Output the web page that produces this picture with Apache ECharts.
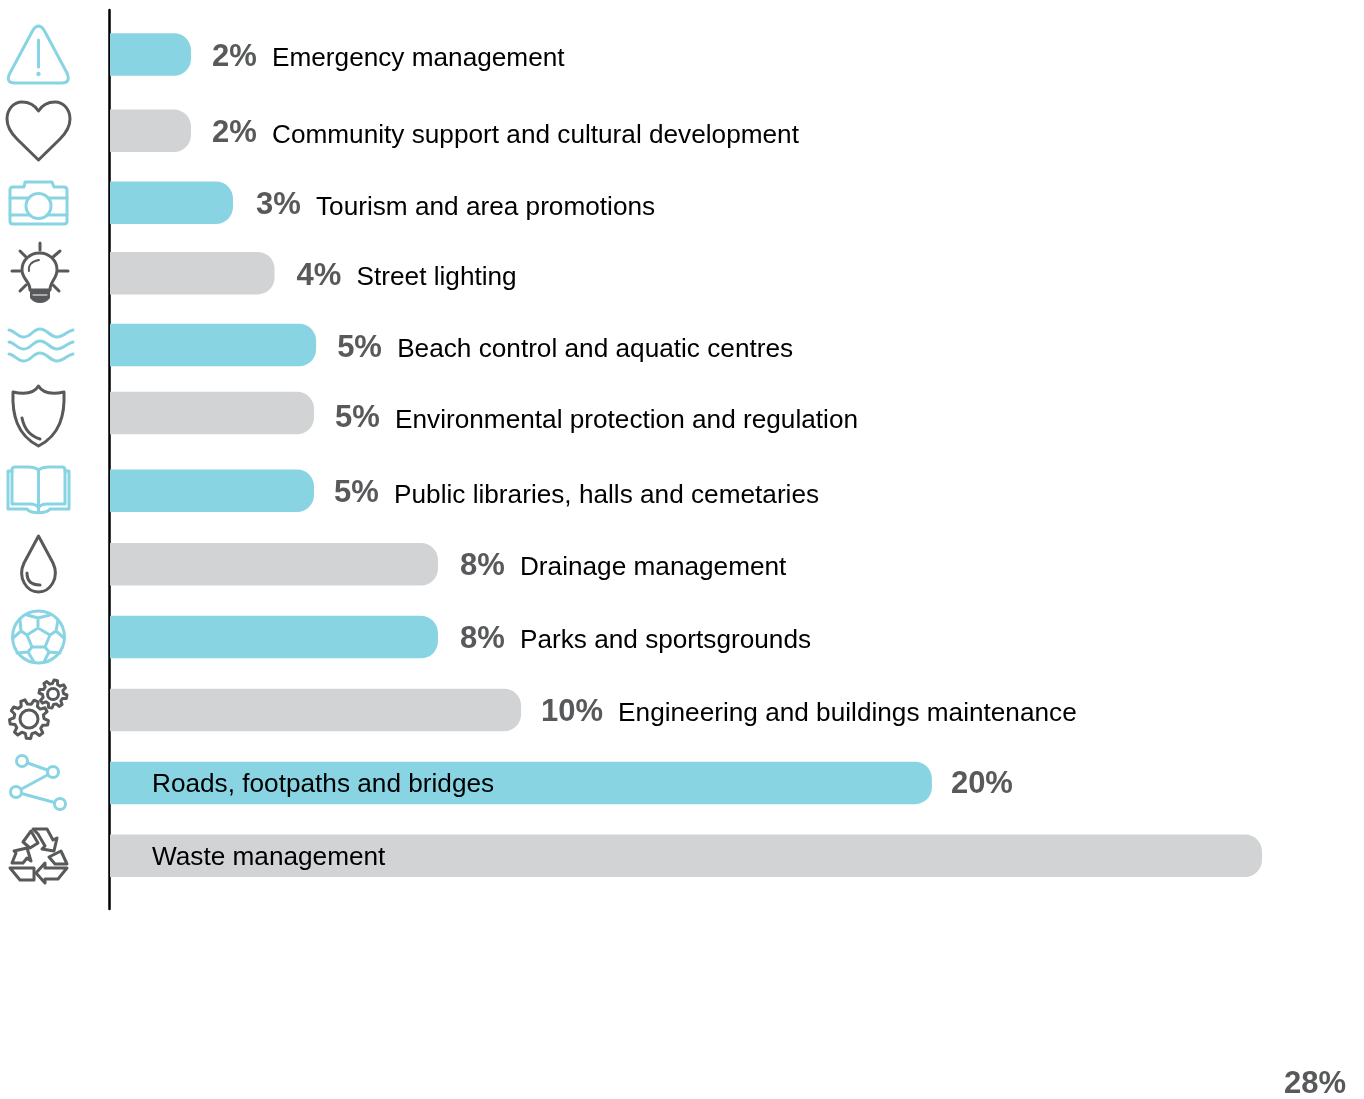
<!DOCTYPE html>
<html>
<head>
<meta charset="utf-8">
<title>Expenditure by service</title>
<style>
  html, body { margin: 0; padding: 0; background: #fff; }
  #chart { width: 1364px; height: 1099px; }
</style>
<script src="https://cdn.jsdelivr.net/npm/echarts@6/dist/echarts.min.js"></script>
</head>
<body>
<div id="chart"></div>
<script>
// 数据
const categories = [
  "Emergency management",
  "Community support and cultural development",
  "Tourism and area promotions",
  "Street lighting",
  "Beach control and aquatic centres",
  "Environmental protection and regulation",
  "Public libraries, halls and cemetaries",
  "Drainage management",
  "Parks and sportsgrounds",
  "Engineering and buildings maintenance",
  "Roads, footpaths and bridges",
  "Waste management",
];
const percentLabels = ["2%", "2%", "3%", "4%", "5%", "5%", "5%", "8%", "8%", "10%", "20%", "28%"];
// bar lengths as drawn, in percent
const barValues = [1.98, 1.98, 3, 4.01, 5.02, 4.97, 4.97, 7.98, 7.98, 10, 19.98, 28];

// 样式
const BLUE = "#88d4e3";
const GREY = "#d1d3d4";
const DARK = "#58595b";
const FONT = '"Liberation Sans", Arial, sans-serif';

// hand placement of each row, the source artwork is not evenly spaced
const rowNudge = [0.5, 4, 3, 0.5, -0.5, -5.5, -0.5, 0, 0, 0, 0, 0];
const textNudge = [4, 5, 5, 5, 5, 8, 5, 4, 4, 4, 2, 2];
const pctNudge = [2.5, 3, 3, 3, 3, 6, 3, 2, 2, 2, 2, 229];
const pctGap = [21, 21, 23, 22, 21, 21, 20, 22, 22, 20, 19, 22];
const nameGap = [60, 60, 60, 60, 60, 60, 60, 60, 60, 77, 0, 0];

const myChart = echarts.init(document.getElementById("chart"), null, { renderer: "canvas" });

function renderRow(params, api) {
  const i = api.value(1);
  const end = api.coord([api.value(0), i]);
  const start = api.coord([0, i]);
  const y = end[1] + rowNudge[i];
  const x0 = start[0] + 0.5;
  const children = [
    {
      type: "rect",
      shape: { x: x0, y: y - 21.25, width: end[0] - x0, height: 42.5, r: [0, 17, 17, 0] },
      style: { fill: i % 2 === 0 ? BLUE : GREY },
    },
  ];
  const pctX = end[0] + pctGap[i];
  children.push({
    type: "text",
    style: {
      x: pctX,
      y: y + pctNudge[i],
      text: percentLabels[i],
      font: "bold 31px " + FONT,
      fill: DARK,
      verticalAlign: "middle",
    },
  });
  // the two long bars carry their name inside
  children.push({
    type: "text",
    style: {
      x: nameGap[i] ? pctX + nameGap[i] : start[0] + 42.5,
      y: y + textNudge[i],
      text: categories[i],
      font: "26.2px " + FONT,
      fill: "#000",
      verticalAlign: "middle",
    },
  });
  return { type: "group", children: children };
}

function gearPath(cx, cy, rOut, rIn, teeth) {
  let d = "";
  const step = (Math.PI * 2) / teeth;
  for (let t = 0; t < teeth; t++) {
    const a = t * step + 0.2;
    const pts = [
      [rIn, a - step * 0.32],
      [rOut, a - step * 0.16],
      [rOut, a + step * 0.16],
      [rIn, a + step * 0.32],
    ];
    pts.forEach((p, k) => {
      const px = cx + p[0] * Math.cos(p[1]);
      const py = cy + p[0] * Math.sin(p[1]);
      d += (t === 0 && k === 0 ? "M" : "L") + px.toFixed(1) + "," + py.toFixed(1);
    });
  }
  return d + "Z";
}

function icon(pathData, color, width) {
  return {
    type: "path",
    shape: { pathData: pathData },
    style: { fill: "none", stroke: color, lineWidth: width || 3, lineCap: "round", lineJoin: "round" },
  };
}

function ring(cx, cy, r, color, width, fill) {
  return {
    type: "circle",
    shape: { cx: cx, cy: cy, r: r },
    style: { fill: fill || "none", stroke: color, lineWidth: width || 3 },
  };
}

// 图标
const icons = [
  // warning
  icon("M33,30Q38.5,22 44,30L67,73Q71,83 62,83L15,83Q5,83 10,73Z", BLUE),
  icon("M38.5,40L38.5,67", BLUE, 3),
  ring(38.5, 74, 1.2, BLUE, 2),
  // heart
  icon("M38.5,111C43,104 50,102 55,102C64,102 70,110 70,119C70,127 66,133 60,139L38.5,160L17,139C11,133 7,127 7,119C7,110 13,102 22,102C27,102 34,104 38.5,111Z", DARK, 3),
  // camera
  icon("M13,187L24,187L25,182L52,182L54,187L64,187Q67,187 67,190L67,221Q67,224 64,224L13,224Q10,224 10,221L10,190Q10,187 13,187Z", BLUE),
  icon("M10,198L28,198M49,198L67,198M10,215L30,215M47,215L67,215", BLUE),
  ring(38.5, 206, 12.5, BLUE),
  // bulb
  icon("M30,290C30,281 22,279 22,270C22,260 30,253 39.5,253C49,253 57,260 57,270C57,279 50,281 50,290Z", DARK, 3),
  icon("M40,243L40,250M12,271L20,271M59,271L68,271M20,251L26,257M60,251L53,257M20,291L26,285M59,291L53,285", DARK, 3),
  icon("M29,271C28,265 32,261 39,260", DARK, 2),
  {
    type: "path",
    shape: { pathData: "M30,290L50,290L50,298C48,301 44,303 40,303C36,303 32,301 30,298Z" },
    style: { fill: DARK },
  },
  icon("M33,295L47,295", "#fff", 1),
  // waves
  icon("M9,330C14,330 17,337 24,337C31,337 33,329 40,329C47,329 50,337 57,337C64,337 67,331 73,330", BLUE, 3),
  icon("M9,342C14,342 17,349 24,349C31,349 33,341 40,341C47,341 50,349 57,349C64,349 67,343 73,342", BLUE, 3),
  icon("M9,354C14,354 17,361 24,361C31,361 33,353 40,353C47,353 50,361 57,361C64,361 67,355 73,354", BLUE, 3),
  // shield
  icon("M38.5,386C42,392 50,395 64,392C65,415 60,435 38.5,446C17,435 12,415 13,392C27,395 35,392 38.5,386Z", DARK, 3),
  icon("M22,418C24,428 30,436 40,439", DARK, 3),
  // book
  icon("M38.5,470C35,467 30,467 28,467L15,467Q12,467 12,470L12,504L30,504C34,504 37,505 38.5,508C40,505 43,504 47,504L65,504L65,470Q65,467 62,467L49,467C47,467 42,467 38.5,470ZM38.5,470L38.5,512", BLUE),
  icon("M12,471L8,471L8,509L27,509C31,514 46,514 50,509L69,509L69,471L65,471", BLUE),
  // drop
  icon("M38.5,536L53,563C60,578 50,592 38.5,592C27,592 17,578 24,563Z", DARK, 3),
  icon("M27,573C27,582 32,585 40,585", DARK, 3),
  // ball
  ring(38.5, 637, 26, BLUE),
  icon("M38,628L50,635L45,647L32,647L27,635ZM38,628L38,618M27,615L38,618L50,615M27,635L21,631M20,620L21,631L13,638M50,635L56,631M58,620L56,631L64,638M32,647L28,652L17,653M28,652L34,662M45,647L49,652L60,653M49,652L44,662", BLUE),
  // gears
  icon(gearPath(29, 719, 19.5, 15, 9), DARK),
  ring(29, 719, 9, DARK, 3),
  icon(gearPath(53, 694, 14, 10.5, 8), DARK),
  ring(53, 694, 5.5, DARK, 3),
  // share
  icon("M22,761L53,772L16,792L60,804", BLUE, 3),
  ring(22, 761, 5.5, BLUE, 3, "#fff"),
  ring(53, 772, 5.5, BLUE, 3, "#fff"),
  ring(16, 792, 5.5, BLUE, 3, "#fff"),
  ring(60, 804, 5.5, BLUE, 3, "#fff"),
  // recycle
  icon("M33,829L47,829L53,840L57,838L54,851L42,849L45,846L38,834Z", DARK),
  icon("M23,842L31,831L38,843L30,848Z", DARK),
  icon("M12,863L16,853L14,851L27,848L31,861L27,858L23,863Z", DARK),
  icon("M10,868L34,868L34,880L20,880Z", DARK),
  icon("M36,873L45,863L45,868L67,868L58,879L45,879L45,883Z", DARK),
  icon("M49,857L61,851L67,864L55,864Z", DARK),
];

const option = {
  animation: false,
  backgroundColor: "#fff",
  grid: { left: 109.5, width: 1152.5, top: 10, height: 899 },
  xAxis: { type: "value", min: 0, max: 28, show: false },
  yAxis: {
    type: "value",
    inverse: true,
    min: -0.603,
    max: 11.73,
    axisLine: { show: true, onZero: false, lineStyle: { color: "#000", width: 2.5 } },
    axisTick: { show: false },
    axisLabel: { show: false },
    splitLine: { show: false },
  },
  series: [
    {
      type: "custom",
      renderItem: renderRow,
      encode: { x: 0, y: 1 },
      silent: true,
      data: barValues.map((v, i) => [v, i]),
    },
    {
      // the pictograms down the left edge, drawn in page pixels
      type: "custom",
      renderItem: () => ({ type: "group", children: icons }),
      silent: true,
      data: [[0, 0]],
    },
  ],
};

myChart.setOption(option);
</script>
</body>
</html>
